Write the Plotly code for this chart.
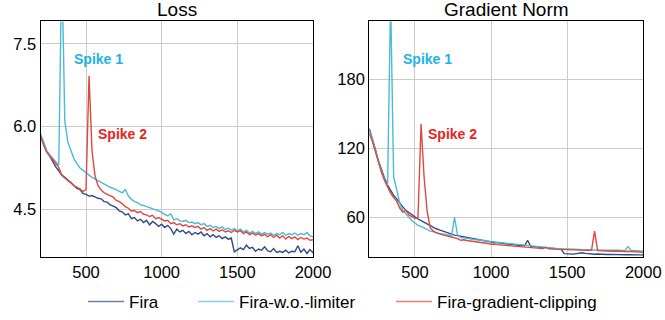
import plotly.graph_objects as go

steps = list(range(200, 2001, 20))

loss_fira = [5.85, 5.68, 5.55, 5.47, 5.36, 5.27, 5.20, 5.12, 5.08, 5.03, 4.98, 4.93, 4.88, 4.86, 4.79, 4.77,
             4.74, 4.75, 4.72, 4.70, 4.69, 4.64, 4.63, 4.58, 4.56, 4.53, 4.47, 4.45, 4.40, 4.42, 4.33, 4.35,
             4.29, 4.32, 4.26, 4.30, 4.22, 4.28, 4.24, 4.19, 4.23, 4.17, 4.21, 4.15, 4.05, 4.14, 4.09, 4.12,
             4.06, 4.10, 4.04, 4.08, 4.05, 4.09, 4.02, 4.06, 4.00, 4.04, 3.99, 4.02, 3.97, 4.00, 3.96, 3.98,
             3.73, 3.76, 3.80, 3.77, 3.85, 3.79, 3.81, 3.74, 3.78, 3.76, 3.82, 3.75, 3.73, 3.79, 3.72, 3.74,
             3.72, 3.76, 3.71, 3.74, 3.73, 3.84, 3.72, 3.78, 3.70, 3.77, 3.71]
loss_nolimiter = [5.86, 5.70, 5.57, 5.49, 5.42, 5.37, 5.30, 9.00, 6.10, 5.72, 5.56, 5.42, 5.33, 5.25, 5.21, 5.16,
                  5.12, 5.08, 5.05, 5.01, 4.99, 4.95, 4.92, 4.90, 4.88, 4.85, 4.82, 4.80, 4.86, 4.74, 4.68, 4.64,
                  4.62, 4.58, 4.57, 4.55, 4.52, 4.50, 4.49, 4.46, 4.45, 4.41, 4.38, 4.42, 4.31, 4.33, 4.29, 4.28,
                  4.30, 4.26, 4.27, 4.24, 4.26, 4.22, 4.24, 4.19, 4.21, 4.17, 4.19, 4.15, 4.18, 4.13, 4.16, 4.12,
                  4.15, 4.11, 4.14, 4.09, 4.12, 4.07, 4.10, 4.06, 4.09, 4.05, 4.08, 4.05, 4.07, 4.03, 4.06, 4.04,
                  4.08, 4.03, 4.06, 4.04, 4.07, 4.03, 4.06, 4.04, 4.08, 4.02, 4.00]
loss_clip = [5.83, 5.66, 5.54, 5.46, 5.40, 5.33, 5.26, 5.12, 5.07, 5.02, 4.99, 4.93, 4.90, 4.87, 4.82, 4.86,
             6.92, 5.55, 5.10, 4.93, 4.85, 4.80, 4.77, 4.74, 4.72, 4.66, 4.64, 4.60, 4.55, 4.52, 4.47, 4.48,
             4.44, 4.46, 4.41, 4.40, 4.37, 4.39, 4.33, 4.35, 4.32, 4.29, 4.30, 4.24, 4.26, 4.22, 4.24, 4.20,
             4.22, 4.18, 4.20, 4.17, 4.19, 4.14, 4.17, 4.12, 4.15, 4.11, 4.14, 4.10, 4.13, 4.09, 4.11, 4.08,
             4.12, 4.09, 4.11, 4.06, 4.09, 4.04, 4.07, 4.03, 4.06, 4.02, 4.05, 4.00, 4.04, 3.99, 4.03, 3.98,
             4.02, 3.96, 4.01, 3.97, 4.00, 3.95, 3.99, 3.96, 3.98, 3.94, 3.95]

gn_fira = [137, 129, 119, 109, 101, 94, 88, 83, 79, 76, 72, 69, 66, 64, 62, 60,
           58.5, 57, 55.5, 54, 52.5, 51, 50, 49, 48, 47, 46, 45.5, 44.5, 44, 43.5, 42.5,
           42, 41.5, 41, 40.5, 40, 39.8, 39.3, 38.8, 38.5, 38.2, 37.8, 37.5, 37.2, 37, 36.6, 36.3,
           36, 35.7, 35.4, 35.2, 40, 34.8, 34.5, 34.2, 34, 33.7, 33.5, 33.2, 33, 32.8, 32.5, 32.3,
           28.4, 28.2, 28.3, 28, 28.4, 28.8, 29.2, 28.6, 28.2, 28, 27.9, 28.1, 27.8, 27.9, 27.7, 27.8,
           27.6, 27.7, 27.5, 27.6, 27.4, 27.5, 27.3, 27.4, 27.2, 27.3, 27.2]
gn_nolimiter = [135, 128, 118, 108, 100, 93, 87, 250, 95, 84, 72, 66, 63, 60, 57, 55,
                53, 52, 50.5, 49.5, 48, 47.5, 46.5, 46, 45.5, 45, 44.5, 44, 60, 44, 42.5, 42,
                41.8, 41.2, 41, 40.5, 40.2, 40, 39.6, 39.3, 39, 38.6, 38.3, 38, 37.6, 37.3, 37, 36.6,
                36.4, 36, 35.8, 35.5, 35.2, 35, 34.6, 34.4, 34.2, 34, 33.6, 33.4, 33.2, 33, 32.8, 32.6,
                32.6, 32.4, 32.2, 32, 32.2, 32, 31.8, 32, 31.8, 31.6, 31.8, 31.5, 31.6, 31.4, 31.5, 31.3,
                31.4, 31.2, 31.3, 31.1, 31.2, 34.5, 31, 31.1, 30.8, 30.7, 30.5]
gn_clip = [133, 126, 117, 107, 99, 92, 86, 81, 77, 74, 68, 64.5, 66, 62, 60.5, 59,
           60, 141, 95, 65, 51, 48, 46.5, 45.5, 44.5, 44, 43.5, 42.8, 42, 41.5, 40, 40.5,
           39.8, 39.5, 39, 38.6, 38.3, 38, 37.6, 37.2, 36.5, 36.8, 36.2, 36, 35.7, 35.4, 35.2, 35,
           34.6, 34.5, 34.2, 34, 33.8, 33.5, 33.3, 33.1, 33, 32.8, 34, 32.5, 32.3, 32.2, 32, 31.9,
           31.8, 31.6, 31.5, 31.4, 31.6, 31.2, 31.4, 31.1, 31.2, 31.5, 48, 31, 30.8, 31, 30.6, 30.8,
           30.5, 30.7, 30.4, 30.6, 30.3, 30.5, 30.2, 30.1, 30, 29.8, 29.5]

series_names = ["Fira", "Fira-w.o.-limiter", "Fira-gradient-clipping"]
series_colors = ["#2f4a8a", "#4cbad8", "#e2473c"]
legend_colors = ["rgba(47,74,138,0.7)", "rgba(76,186,216,0.7)", "rgba(226,71,60,0.7)"]
titles = ["Loss", "Gradient Norm"]
x_ticks = [500, 1000, 1500, 2000]
loss_ticks = [4.5, 6.0, 7.5]
gn_ticks = [60, 120, 180]

FONT = "Liberation Sans, Arial, sans-serif"
W, H = 665, 320

fig = go.Figure()
loss_series = [loss_fira, loss_nolimiter, loss_clip]
gn_series = [gn_fira, gn_nolimiter, gn_clip]
for i, (name, col) in enumerate(zip(series_names, series_colors)):
    fig.add_trace(go.Scatter(x=steps, y=loss_series[i], mode="lines", name=name,
                             line=dict(color=col, width=1.4), xaxis="x", yaxis="y",
                             showlegend=False))
for i, (name, col) in enumerate(zip(series_names, series_colors)):
    fig.add_trace(go.Scatter(x=steps, y=gn_series[i], mode="lines", name=name,
                             line=dict(color=col, width=1.4), xaxis="x2", yaxis="y2",
                             showlegend=False))
# legend entries (one legend box per series so spacing can match)
legend_ids = ["legend", "legend2", "legend3"]
for i, name in enumerate(series_names):
    fig.add_trace(go.Scatter(x=[None], y=[None], mode="lines", name=name,
                             line=dict(color=legend_colors[i], width=1.4), xaxis="x", yaxis="y",
                             showlegend=True, legend=legend_ids[i]))

ydom = [(H - 259.3) / H, (H - 21.7) / H]
xdom1 = [40.6 / W, 313.0 / W]
xdom2 = [369.3 / W, 643.3 / W]

axis_common = dict(showline=True, mirror=True, linecolor="black", linewidth=1.2,
                   showgrid=True, gridcolor="#cccccc", gridwidth=1, ticks="",
                   zeroline=False, tickfont=dict(family=FONT, size=16.5, color="black"))

legend_x_px = [83, 193, 391]
leg_common = dict(orientation="h", xanchor="left", y=(H - 305) / H, yanchor="middle",
                  font=dict(family=FONT, size=17, color="black"), bgcolor="rgba(0,0,0,0)",
                  itemwidth=36, borderwidth=0)

fig.update_layout(
    template="none",
    width=W, height=H,
    margin=dict(l=0, r=0, t=0, b=0),
    paper_bgcolor="white", plot_bgcolor="white",
    font=dict(family=FONT, color="black"),
    xaxis=dict(domain=xdom1, range=[200, 2000], tickvals=x_ticks, anchor="y", **axis_common),
    yaxis=dict(domain=ydom, range=[3.638, 7.906], tickvals=loss_ticks, tickformat=".1f",
               anchor="x", **axis_common),
    xaxis2=dict(domain=xdom2, range=[200, 2000], tickvals=x_ticks, anchor="y2", **axis_common),
    yaxis2=dict(domain=ydom, range=[25.6, 230], tickvals=gn_ticks, anchor="x2", **axis_common),
    showlegend=True,
    legend=dict(x=legend_x_px[0] / W, **leg_common),
    legend2=dict(x=legend_x_px[1] / W, **leg_common),
    legend3=dict(x=legend_x_px[2] / W, **leg_common),
)

annos = []
annos.append(dict(text=titles[0], xref="paper", yref="paper", x=(xdom1[0] + xdom1[1]) / 2,
                  y=(H - 10) / H, xanchor="center", yanchor="middle", showarrow=False,
                  font=dict(family=FONT, size=19, color="black")))
annos.append(dict(text=titles[1], xref="paper", yref="paper", x=(xdom2[0] + xdom2[1]) / 2,
                  y=(H - 10) / H, xanchor="center", yanchor="middle", showarrow=False,
                  font=dict(family=FONT, size=19, color="black")))
spike_blue = "#1bb3e9"
spike_red = "#e8241c"
annos += [
    dict(text="<b>Spike 1</b>", x=405, y=7.22, xref="x", yref="y", xanchor="left", yanchor="middle",
         showarrow=False, font=dict(family=FONT, size=14, color=spike_blue)),
    dict(text="<b>Spike 2</b>", x=566, y=5.87, xref="x", yref="y", xanchor="left", yanchor="middle",
         showarrow=False, font=dict(family=FONT, size=14, color=spike_red)),
    dict(text="<b>Spike 1</b>", x=408, y=197, xref="x2", yref="y2", xanchor="left", yanchor="middle",
         showarrow=False, font=dict(family=FONT, size=14, color=spike_blue)),
    dict(text="<b>Spike 2</b>", x=570, y=132, xref="x2", yref="y2", xanchor="left", yanchor="middle",
         showarrow=False, font=dict(family=FONT, size=14, color=spike_red)),
]
fig.update_layout(annotations=annos)

fig.write_html("out.html")
